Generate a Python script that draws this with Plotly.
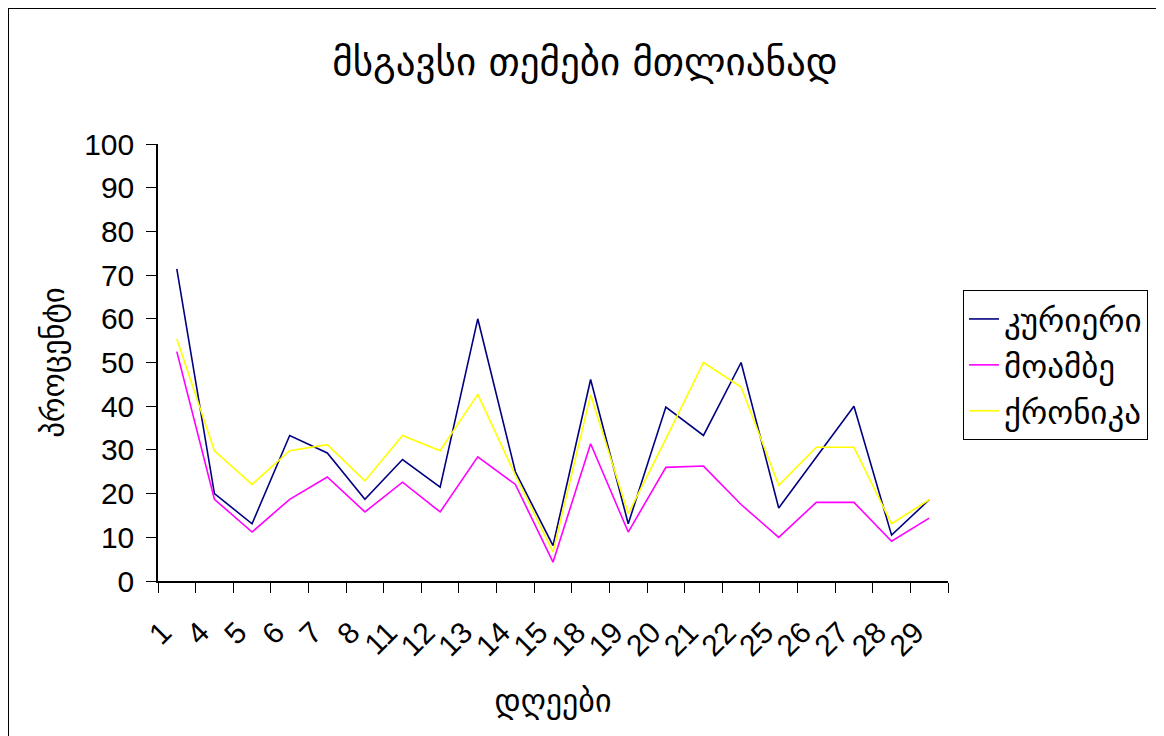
import plotly.graph_objects as go

days = ["1", "4", "5", "6", "7", "8", "11", "12", "13", "14", "15",
        "18", "19", "20", "21", "22", "25", "26", "27", "28", "29"]

kurieri = [71.4, 20.0, 13.1, 33.3, 29.3, 18.7, 27.8, 21.5, 60.0, 25.0, 8.1,
           46.1, 13.1, 39.8, 33.3, 50.0, 16.7, 28.4, 40.0, 10.5, 18.6]
moambe = [52.5, 18.7, 11.2, 18.7, 23.8, 15.8, 22.6, 15.8, 28.4, 22.1, 4.3,
          31.4, 11.2, 26.0, 26.3, 17.5, 10.0, 18.0, 18.0, 9.1, 14.4]
qronika = [55.4, 29.8, 22.1, 29.8, 31.2, 22.9, 33.3, 29.8, 42.7, 24.2, 6.6,
           42.6, 15.4, 32.5, 50.0, 44.4, 21.9, 30.6, 30.6, 13.1, 18.6]

series_names = ["კურიერი", "მოამბე", "ქრონიკა"]
series_colors = ["#000080", "#FF00FF", "#FFFF00"]

title_text = "მსგავსი თემები მთლიანად"
x_title = "დღეები"
y_title = "პროცენტი"

GEO_FONT = "DejaVu Sans"
NUM_FONT = "Liberation Sans, Arial"

OFF = 8  # page body margin
W, H = 1164 - OFF, 736 - OFF
# plot area bounds in page pixels
PL, PR, PT, PB = 158, 948, 144, 581
L, R, T, B = PL - OFF, PR - OFF, PT - OFF, PB - OFF


def px_x(p):
    return (p - OFF - L) / (R - L)


def px_y(p):
    return (B - (p - OFF)) / (B - T)


fig = go.Figure()
for i, (name, vals, col) in enumerate(zip(series_names, [kurieri, moambe, qronika], series_colors)):
    fig.add_trace(go.Scatter(
        x=days, y=vals, mode="lines", name=name,
        line=dict(color=col, width=1.6),
        legendgroup=f"g{i}",
    ))

fig.update_layout(
    width=W, height=H,
    margin=dict(l=L, r=W - R, t=T, b=H - B, pad=0),
    paper_bgcolor="white", plot_bgcolor="white",
    showlegend=True,
    title=dict(text=title_text, x=px_x(585), xref="paper", xanchor="center",
               y=1 - (61 - OFF) / H, yref="container", yanchor="middle",
               font=dict(family=GEO_FONT, size=39, color="black")),
    legend=dict(x=px_x(963), y=px_y(290), xanchor="left", yanchor="top",
                xref="paper", yref="paper",
                bordercolor="black", borderwidth=1, bgcolor="white",
                font=dict(family=GEO_FONT, size=33, color="black"),
                itemwidth=30, tracegroupgap=2, traceorder="normal"),
    xaxis=dict(type="category", range=[-0.5, len(days) - 0.5],
               tickson="boundaries", ticks="outside", ticklen=10,
               tickcolor="black", showline=True, linecolor="black", linewidth=1.5,
               showgrid=False, zeroline=False, tickangle=-45,
               tickfont=dict(family=NUM_FONT, size=30, color="black"),
               ticklabelshift=-14, ticklabelstandoff=20,
               title=dict(text=x_title, standoff=28,
                          font=dict(family=GEO_FONT, size=32, color="black"))),
    yaxis=dict(range=[0, 100], dtick=10, ticks="outside", ticklen=10,
               tickcolor="black", showline=True, linecolor="black", linewidth=1.5,
               showgrid=False, zeroline=False,
               tickfont=dict(family=NUM_FONT, size=30, color="black"),
               ticklabelstandoff=6,
               title=dict(text=y_title, standoff=10,
                          font=dict(family=GEO_FONT, size=31, color="black"))),
    shapes=[dict(type="rect", xref="paper", yref="paper",
                 x0=px_x(8), x1=px_x(1164 + 30), y0=px_y(736 + 30), y1=px_y(8),
                 line=dict(color="black", width=2), fillcolor="rgba(0,0,0,0)",
                 layer="below")],
)

fig.write_html("out.html")
